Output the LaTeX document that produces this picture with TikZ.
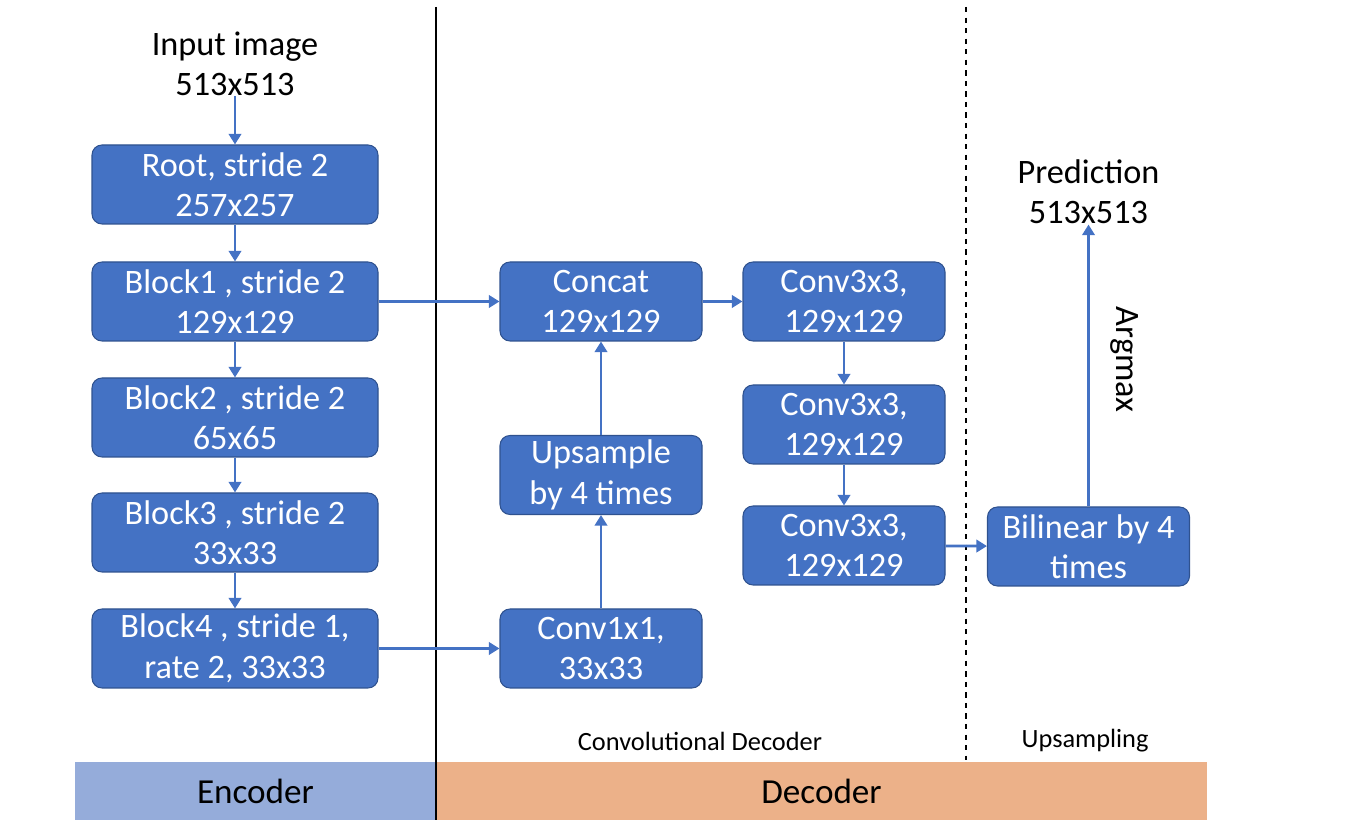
\documentclass[tikz,border=0pt]{standalone}
\usepackage{fontspec}
\setmainfont{Carlito}
\usetikzlibrary{arrows.meta}
\definecolor{boxblue}{HTML}{4472C4}
\definecolor{boxedge}{HTML}{2F528F}
\definecolor{encband}{HTML}{95ACDA}
\definecolor{decband}{HTML}{ECB189}
\tikzset{every node/.style={inner sep=0pt,align=center}}
\tikzset{big/.style={font=\fontsize{19.5}{23}\selectfont}}
\tikzset{blk/.style={rectangle,rounded corners=0.2cm,fill=boxblue,draw=boxedge,line width=0.6pt,text=white,
  minimum height=1.58cm,big}}
\tikzset{wide/.style={blk,minimum width=5.72cm}}
\tikzset{narrow/.style={blk,minimum width=4.04cm}}
\tikzset{flow/.style={boxblue,line width=1.6pt,-{Triangle[length=6pt,width=7pt]}}}

\begin{document}
\begin{tikzpicture}
  \useasboundingbox (0,0) rectangle (27.4,16.72);
  % bands
  \fill[encband] (1.5,0.32) rectangle (8.72,1.48);
  \fill[decband] (8.72,0.32) rectangle (24.14,1.48);
  \node[font=\fontsize{20}{22}\selectfont] (enc) at (5.11,0.9) {Encoder};
  \node[font=\fontsize{20}{22}\selectfont] (dec) at (16.43,0.9) {Decoder};
  \draw[line width=0.8pt] (8.72,16.58) -- (8.72,0.32);
  \draw[line width=0.8pt,dashed] (19.32,16.58) -- (19.32,1.52);
  \node[font=\fontsize{15}{17}\selectfont] (convlbl) at (14.0,1.9) {Convolutional Decoder};
  \node[font=\fontsize{15}{17}\selectfont] (uplbl) at (21.7,1.9) {Upsampling};

  % encoder
  \node[big] (inp) at (4.70,15.44) {Input image\\513x513};
  \node[wide] (root) at (4.70,13.03) {Root, stride 2\\257x257};
  \node[wide] (b1) at (4.70,10.69) {Block1 , stride 2\\129x129};
  \node[wide] (b2) at (4.70,8.37) {Block2 , stride 2\\65x65};
  \node[wide] (b3) at (4.70,6.07) {Block3 , stride 2\\33x33};
  \node[wide] (b4) at (4.70,3.75) {Block4 , stride 1,\\rate 2, 33x33};

  % decoder
  \node[narrow] (cat) at (12.02,10.69) {Concat\\129x129};
  \node[narrow] (up) at (12.02,7.22) {Upsample\\by 4 times};
  \node[narrow] (c1) at (12.02,3.75) {Conv1x1,\\33x33};
  \node[narrow] (c3a) at (16.88,10.69) {Conv3x3,\\129x129};
  \node[narrow] (c3b) at (16.88,8.23) {Conv3x3,\\129x129};
  \node[narrow] (c3c) at (16.88,5.81) {Conv3x3,\\129x129};

  % upsampling
  \node[narrow] (bil) at (21.77,5.79) {Bilinear by 4\\times};
  \node[big] (pred) at (21.77,12.88) {Prediction\\513x513};

  \draw[flow] (inp) -- (root);
  \draw[flow] (root) -- (b1);
  \draw[flow] (b1) -- (b2);
  \draw[flow] (b2) -- (b3);
  \draw[flow] (b3) -- (b4);
  \draw[flow] (b1) -- (cat);
  \draw[flow] (b4) -- (c1);
  \draw[flow] (c1) -- (up);
  \draw[flow] (up) -- (cat);
  \draw[flow] (cat) -- (c3a);
  \draw[flow] (c3a) -- (c3b);
  \draw[flow] (c3b) -- (c3c);
  \draw[flow] (c3c) -- (bil);
  \draw[flow] (bil) -- node[pos=0.52,xshift=0.42cm,rotate=-90,anchor=south,text=black,big] {Argmax} (pred);
\end{tikzpicture}
\end{document}
